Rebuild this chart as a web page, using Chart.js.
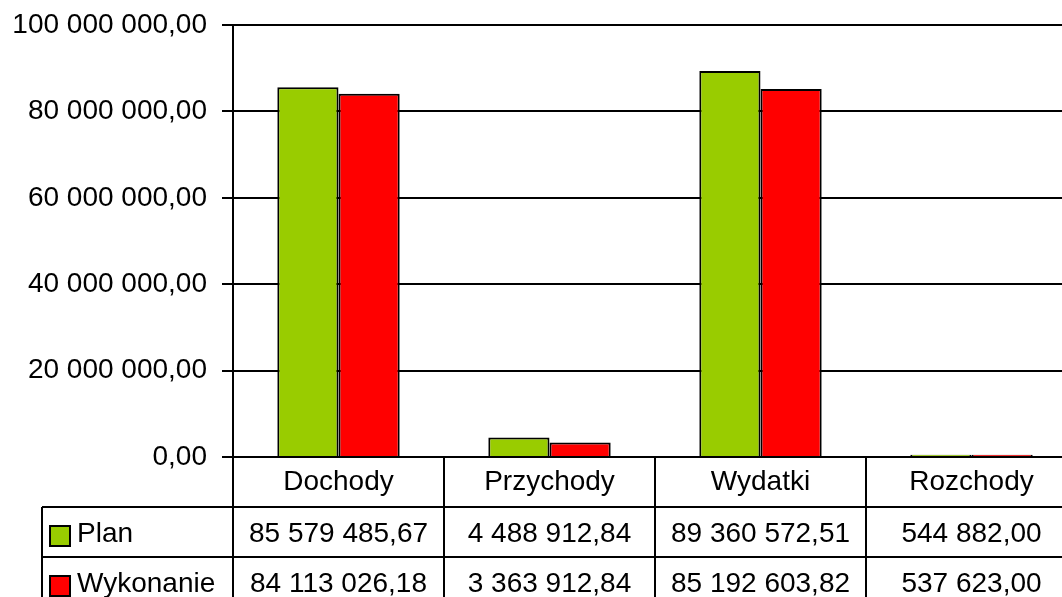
<!DOCTYPE html>
<html>
<head>
<meta charset="utf-8">
<script src="https://cdn.jsdelivr.net/npm/chart.js@4"></script>
<style>
  html, body { margin: 0; padding: 0; overflow: hidden; background: #fff; }
</style>
</head>
<body>
<canvas id="chart" width="1080" height="620"></canvas>
<script>
// dane z wykresu
const categories = ["Dochody", "Przychody", "Wydatki", "Rozchody"];
const seriesNames = ["Plan", "Wykonanie"];
const planValues = [85579485.67, 4488912.84, 89360572.51, 544882.00];
const execValues = [84113026.18, 3363912.84, 85192603.82, 537623.00];
const yTicks = [0, 20000000, 40000000, 60000000, 80000000, 100000000];
const seriesColors = ["#99cc00", "#ff0000"];

const FONT = "Liberation Sans, Arial, sans-serif";

// format polski: spacje tysięcy, przecinek dziesiętny
function fmt(v) {
  const parts = v.toFixed(2).split(".");
  return parts[0].replace(/\B(?=(\d{3})+(?!\d))/g, " ") + "," + parts[1];
}

// tabela danych pod wykresem (jak w Excelu)
const dataTable = {
  id: "dataTable",
  afterDraw(chart) {
    const ctx = chart.ctx;
    const x = chart.scales.x;
    const area = chart.chartArea;
    const rowH = 50;
    const legendLeft = 42;
    const bottom = chart.height;
    const half = (x.getPixelForValue(1) - x.getPixelForValue(0)) / 2;
    const rows = [planValues, execValues];

    ctx.save();
    ctx.strokeStyle = "#000";
    ctx.lineWidth = 2;

    // pionowe linie kolumn
    categories.forEach((_, i) => {
      const bx = Math.round(x.getPixelForValue(i) - half);
      ctx.beginPath();
      ctx.moveTo(bx, area.bottom);
      ctx.lineTo(bx, bottom);
      ctx.stroke();
    });
    const lastX = Math.round(x.getPixelForValue(categories.length - 1) + half);
    ctx.beginPath();
    ctx.moveTo(lastX, area.bottom);
    ctx.lineTo(lastX, bottom);
    ctx.stroke();

    // lewa krawędź legendy
    ctx.beginPath();
    ctx.moveTo(legendLeft, area.bottom + rowH);
    ctx.lineTo(legendLeft, bottom);
    ctx.stroke();

    // poziome linie wierszy
    for (let r = 1; r <= rows.length + 1; r++) {
      const y = area.bottom + r * rowH;
      ctx.beginPath();
      ctx.moveTo(legendLeft, y);
      ctx.lineTo(lastX, y);
      ctx.stroke();
    }

    ctx.fillStyle = "#000";
    ctx.font = "28px " + FONT;
    ctx.textBaseline = "middle";

    // nagłówki kategorii
    ctx.textAlign = "center";
    categories.forEach((c, i) => {
      ctx.fillText(c, x.getPixelForValue(i), area.bottom + rowH / 2);
    });

    // wiersze serii
    rows.forEach((vals, r) => {
      const top = area.bottom + (r + 1) * rowH;
      const cy = top + rowH / 2 + 2;
      // klucz legendy
      ctx.fillStyle = seriesColors[r];
      ctx.fillRect(legendLeft + 8, top + 19, 20, 20);
      ctx.strokeRect(legendLeft + 8, top + 19, 20, 20);
      ctx.fillStyle = "#000";
      ctx.textAlign = "left";
      ctx.fillText(seriesNames[r], legendLeft + 35, cy);
      ctx.textAlign = "center";
      vals.forEach((v, i) => {
        ctx.fillText(fmt(v), x.getPixelForValue(i), cy);
      });
    });
    ctx.restore();
  }
};

new Chart(document.getElementById("chart"), {
  type: "bar",
  data: {
    labels: categories,
    datasets: [
      { label: seriesNames[0], data: planValues, backgroundColor: seriesColors[0] },
      { label: seriesNames[1], data: execValues, backgroundColor: seriesColors[1] }
    ]
  },
  options: {
    responsive: false,
    animation: false,
    devicePixelRatio: 1,
    layout: { padding: { top: 25, right: 3, left: 0, bottom: 0 } },
    datasets: {
      bar: {
        borderColor: "#000",
        borderWidth: 2,
        barPercentage: 1,
        categoryPercentage: 0.58
      }
    },
    plugins: {
      legend: { display: false },
      tooltip: { enabled: false }
    },
    scales: {
      x: {
        grid: { display: false },
        border: { display: false },
        ticks: { display: false },
        afterFit: s => { s.height = 163; }
      },
      y: {
        min: 0,
        max: 100000000,
        afterBuildTicks: s => { s.ticks = yTicks.map(v => ({ value: v })); },
        afterFit: s => { s.width = 233; s.paddingTop = 0; s.paddingBottom = 0; },
        grid: { color: "#000", lineWidth: 2, tickLength: 11 },
        border: { color: "#000", width: 2 },
        ticks: {
          color: "#000",
          padding: 15,
          font: { family: FONT, size: 28 },
          callback: v => fmt(v)
        }
      }
    }
  },
  plugins: [dataTable]
});
</script>
</body>
</html>
